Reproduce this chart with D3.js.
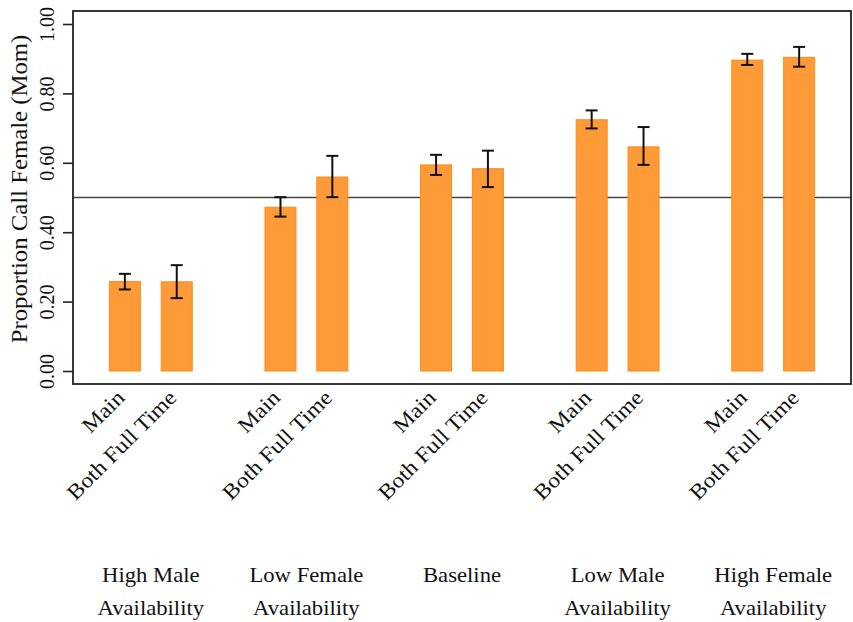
<!DOCTYPE html>
<html>
<head>
<meta charset="utf-8">
<script src="https://cdn.jsdelivr.net/npm/d3@7"></script>
<style>
  html, body { margin: 0; padding: 0; background: #fff; }
  svg { display: block; }
  text { font-family: "Liberation Serif", "Times New Roman", serif; fill: #111; }
</style>
</head>
<body>
<svg id="chart" width="853" height="622"></svg>
<script>
// Scenario groups (two-line labels) and the two household types within each
const groupLines = [
  ["High Male", "Availability"],
  ["Low Female", "Availability"],
  ["Baseline"],
  ["Low Male", "Availability"],
  ["High Female", "Availability"]
];
const groupKeys = ["HighMale", "LowFemale", "Baseline", "LowMale", "HighFemale"];
const types = ["Main", "Both Full Time"];

// Proportion calling the female (mom), with 95% confidence bounds
const mainMean = [0.258, 0.472, 0.594, 0.724, 0.896];
const mainLo   = [0.235, 0.445, 0.565, 0.699, 0.882];
const mainHi   = [0.280, 0.501, 0.623, 0.751, 0.914];
const bftMean  = [0.257, 0.559, 0.583, 0.646, 0.904];
const bftLo    = [0.210, 0.501, 0.530, 0.594, 0.877];
const bftHi    = [0.305, 0.620, 0.635, 0.703, 0.934];

const yTicks = [0, 0.2, 0.4, 0.6, 0.8, 1.0];
const refLine = 0.5;

const rows = [];
groupKeys.forEach((g, i) => {
  rows.push({ group: g, type: types[0], mean: mainMean[i], lo: mainLo[i], hi: mainHi[i] });
  rows.push({ group: g, type: types[1], mean: bftMean[i], lo: bftLo[i], hi: bftHi[i] });
});

const svg = d3.select("#chart");
const frame = { left: 73, right: 851, top: 11, bottom: 384 };

const y = d3.scaleLinear().domain([0, 1]).range([371, 24]);
const x0 = d3.scaleBand().domain(groupKeys).range([frame.left, frame.right]).padding(0);
const x1 = d3.scalePoint().domain(types).range([0, x0.bandwidth()]).padding(1);
const barW = 31;
const cx = d => x0(d.group) + x1(d.type);

// Reference line at one half, drawn beneath the bars
svg.append("line")
  .attr("x1", frame.left).attr("x2", frame.right)
  .attr("y1", y(refLine)).attr("y2", y(refLine))
  .attr("stroke", "#444").attr("stroke-width", 1.6);

// Bars
svg.append("g").selectAll("rect").data(rows).join("rect")
  .attr("x", d => cx(d) - barW / 2)
  .attr("width", barW)
  .attr("y", d => y(d.mean))
  .attr("height", d => y(0) - y(d.mean))
  .attr("fill", "#ff9a38")
  .attr("stroke", "#ff8c12")
  .attr("stroke-width", 1);

// Confidence intervals
const eb = svg.append("g").attr("stroke", "#111").attr("stroke-width", 2);
eb.selectAll("line.v").data(rows).join("line").attr("class", "v")
  .attr("x1", cx).attr("x2", cx)
  .attr("y1", d => y(d.lo)).attr("y2", d => y(d.hi));
eb.selectAll("line.t").data(rows).join("line").attr("class", "t")
  .attr("x1", d => cx(d) - 6).attr("x2", d => cx(d) + 6)
  .attr("y1", d => y(d.hi)).attr("y2", d => y(d.hi));
eb.selectAll("line.b").data(rows).join("line").attr("class", "b")
  .attr("x1", d => cx(d) - 6).attr("x2", d => cx(d) + 6)
  .attr("y1", d => y(d.lo)).attr("y2", d => y(d.lo));

// Plot frame
svg.append("rect")
  .attr("x", frame.left).attr("y", frame.top)
  .attr("width", frame.right - frame.left).attr("height", frame.bottom - frame.top)
  .attr("fill", "none").attr("stroke", "#222").attr("stroke-width", 1.8);

// Y axis: ticks outside the frame, labels rotated
const yAxis = d3.axisLeft(y).tickValues(yTicks).tickFormat(d3.format(".2f"))
  .tickSize(10).tickPadding(0);
const ya = svg.append("g").attr("transform", `translate(${frame.left},0)`).call(yAxis)
  .attr("font-family", null).attr("font-size", null);
ya.select(".domain").remove();
ya.selectAll(".tick line").attr("stroke", "#222").attr("stroke-width", 1.6);
ya.selectAll(".tick text")
  .attr("x", null).attr("dy", null)
  .attr("transform", "translate(-19,0) rotate(-90)")
  .attr("text-anchor", "middle")
  .style("font-size", "20px")
  .attr("fill", "#111");

// Y title
svg.append("text")
  .attr("transform", "translate(27,189) rotate(-90) scale(1.1,1)")
  .attr("text-anchor", "middle")
  .style("font-size", "22.5px")
  .text("Proportion Call Female (Mom)");

// Rotated type labels beneath each bar
svg.append("g").selectAll("text").data(rows).join("text")
  .attr("transform", d => `translate(${cx(d) + 1},399) rotate(-45) scale(1.1,1)`)
  .attr("text-anchor", "end")
  .style("font-size", "21.5px")
  .text(d => d.type);

// Scenario labels along the bottom
const gl = svg.append("g").selectAll("text").data(groupKeys).join("text")
  .attr("text-anchor", "middle")
  .attr("transform", g => `translate(${x0(g) + x0.bandwidth() / 2},582) scale(1.08,1)`)
  .style("font-size", "21px");
gl.each(function (g, i) {
  d3.select(this).selectAll("tspan").data(groupLines[i]).join("tspan")
    .attr("x", 0)
    .attr("y", (d, j) => j * 33)
    .text(d => d);
});
</script>
</body>
</html>
